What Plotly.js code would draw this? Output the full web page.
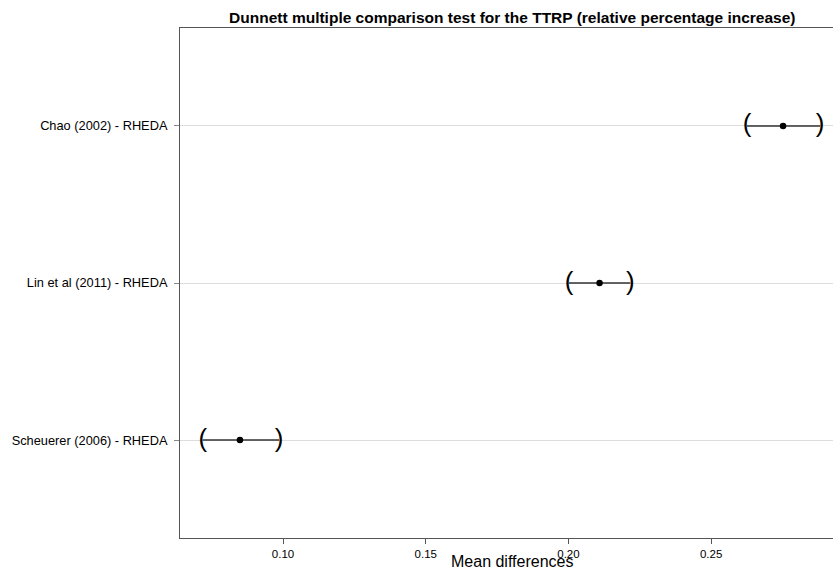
<!DOCTYPE html>
<html><head><meta charset="utf-8">
<script src="https://cdn.plot.ly/plotly-3.0.1.min.js"></script>
<style>body{margin:0;background:#fff}#chart{width:833px;height:571px}</style>
</head><body><div id="chart"></div>
<script>
const comparisons = ["Scheuerer (2006) - RHEDA", "Lin et al (2011) - RHEDA", "Chao (2002) - RHEDA"];
const estimates = [0.0849, 0.2109, 0.2752];
const lowerCI = [0.0719, 0.2002, 0.2626];
const upperCI = [0.0986, 0.2217, 0.2882];
const xTickVals = [0.10, 0.15, 0.20, 0.25];
const xTickText = ["0.10", "0.15", "0.20", "0.25"];

const traces = [];
comparisons.forEach((c, i) => {
  traces.push({x: [lowerCI[i], upperCI[i]], y: [c, c], mode: 'lines', type: 'scatter',
    line: {color: '#333', width: 1.5}, hoverinfo: 'skip', showlegend: false});
});
traces.push({x: lowerCI, y: comparisons, mode: 'text', type: 'scatter', text: comparisons.map(() => '('),
  textposition: 'middle center', textfont: {family: 'Liberation Sans, Arial', size: 26, color: '#000'}, showlegend: false});
traces.push({x: upperCI, y: comparisons, mode: 'text', type: 'scatter', text: comparisons.map(() => ')'),
  textposition: 'middle center', textfont: {family: 'Liberation Sans, Arial', size: 26, color: '#000'}, showlegend: false});
traces.push({x: estimates, y: comparisons, mode: 'markers', type: 'scatter',
  marker: {color: '#000', size: 6.5}, showlegend: false});

const layout = {
  width: 833, height: 571,
  margin: {l: 180, r: 0, t: 28, b: 33},
  paper_bgcolor: '#fff', plot_bgcolor: '#fff',
  font: {family: 'Liberation Sans, Arial, sans-serif', color: '#000'},
  title: {text: '<b>Dunnett multiple comparison test for the TTRP (relative percentage increase)</b>',
    font: {size: 15.5, color: '#000'}, x: 0.615, xanchor: 'center', y: 0.97, yanchor: 'middle'},
  xaxis: {range: [0.0639, 0.2927], tickvals: xTickVals, ticktext: xTickText,
    showgrid: false, zeroline: false, showline: true, mirror: true, linecolor: '#555', linewidth: 1,
    ticks: 'outside', ticklen: 5, tickcolor: '#555', tickfont: {size: 11.5, color: '#000'}},
  yaxis: {type: 'category', categoryorder: 'array', categoryarray: comparisons, range: [-0.624, 2.624],
    showgrid: true, gridcolor: '#ddd', gridwidth: 1, zeroline: false, showline: true, linecolor: '#555',
    ticks: 'outside', ticklen: 5, tickcolor: '#888', tickfont: {size: 12.8, color: '#000'}, ticklabelstandoff: 4},
  annotations: [{text: 'Mean differences', xref: 'paper', yref: 'paper', x: 0.509, y: -0.046, xanchor: 'center',
    yanchor: 'middle', showarrow: false, font: {size: 16, color: '#000'}}]
};
Plotly.newPlot('chart', traces, layout, {displayModeBar: false});
</script></body></html>
